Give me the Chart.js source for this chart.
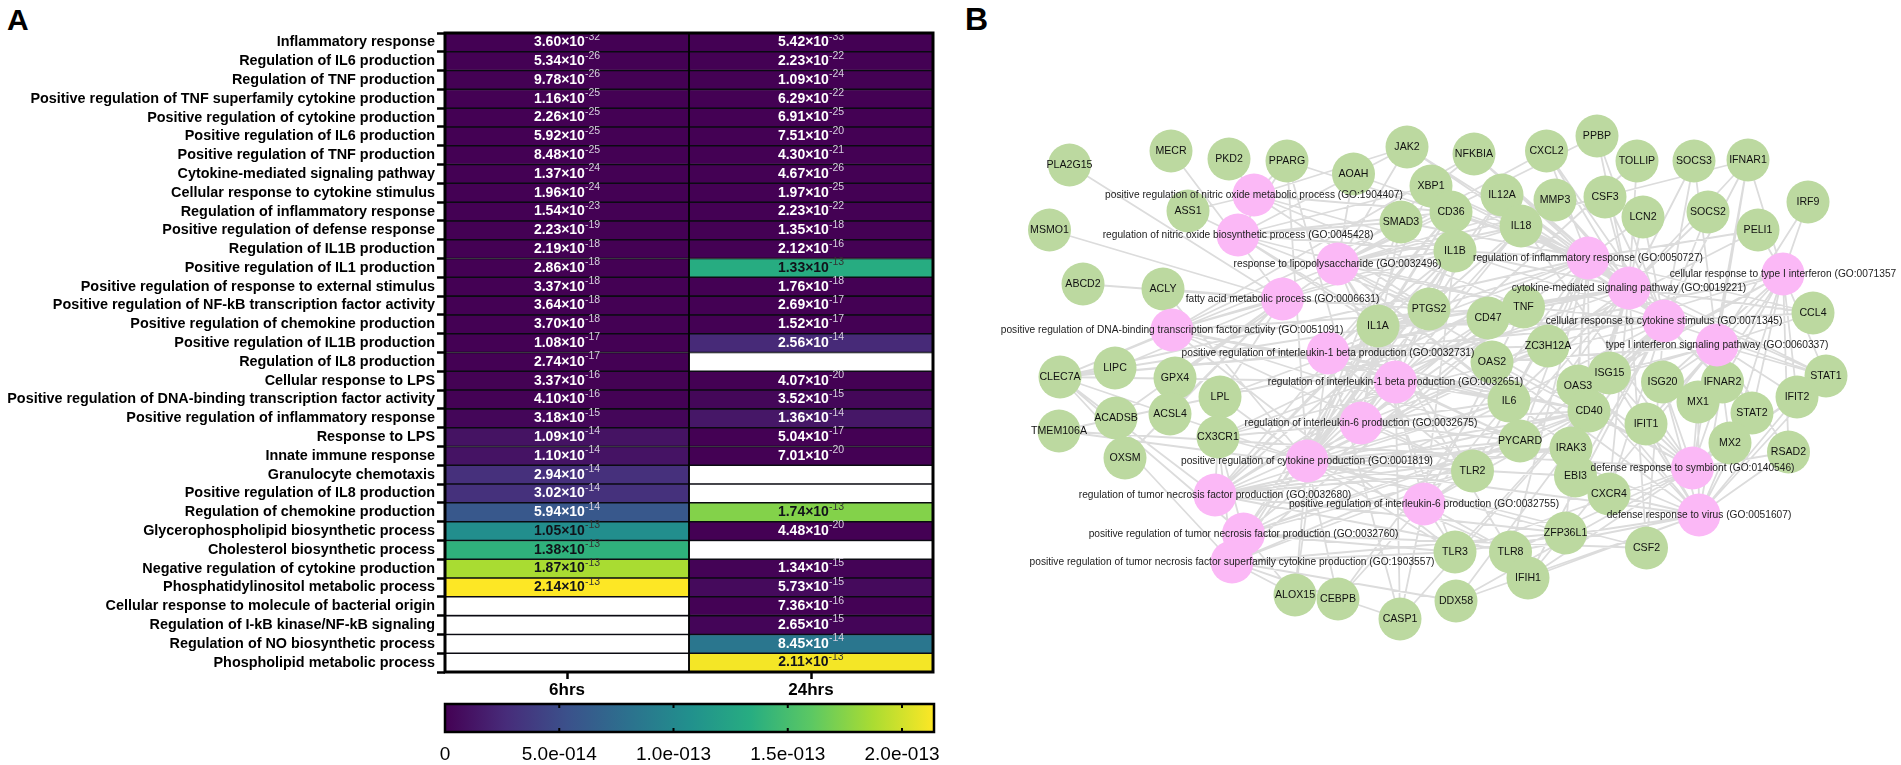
<!DOCTYPE html>
<html>
<head>
<meta charset="utf-8">
<title>GO enrichment heatmap and network</title>
<script src="https://cdn.jsdelivr.net/npm/chart.js@4"></script>
<style>
    html, body { margin: 0; padding: 0; background: #fff; overflow: hidden; }
    canvas { position: absolute; display: block; }
    .panel { position: absolute; font-family: "Liberation Sans", Arial, sans-serif; font-weight: bold; line-height: 1; color: #000; }
</style>
</head>
<body>
<div class="panel" style="left:7px;top:5px;font-size:30px">A</div>
<div class="panel" style="left:965px;top:3px;font-size:32px">B</div>
<canvas id="heat" width="945" height="700" style="left:0;top:0"></canvas>
<canvas id="bar" width="960" height="75" style="left:0;top:690px"></canvas>
<canvas id="net" width="951" height="765" style="left:950px;top:0"></canvas>
<script>
// panel A
var categories = ['Inflammatory response', 'Regulation of IL6 production', 'Regulation of TNF production',
    'Positive regulation of TNF superfamily cytokine production', 'Positive regulation of cytokine production',
    'Positive regulation of IL6 production', 'Positive regulation of TNF production', 'Cytokine-mediated signaling pathway',
    'Cellular response to cytokine stimulus', 'Regulation of inflammatory response', 'Positive regulation of defense response',
    'Regulation of IL1B production', 'Positive regulation of IL1 production', 'Positive regulation of response to external stimulus',
    'Positive regulation of NF-kB transcription factor activity', 'Positive regulation of chemokine production',
    'Positive regulation of IL1B production', 'Regulation of IL8 production', 'Cellular response to LPS',
    'Positive regulation of DNA-binding transcription factor activity', 'Positive regulation of inflammatory response',
    'Response to LPS', 'Innate immune response', 'Granulocyte chemotaxis', 'Positive regulation of IL8 production',
    'Regulation of chemokine production', 'Glycerophospholipid biosynthetic process', 'Cholesterol biosynthetic process',
    'Negative regulation of cytokine production', 'Phosphatidylinositol metabolic process',
    'Cellular response to molecule of bacterial origin', 'Regulation of I-kB kinase/NF-kB signaling',
    'Regulation of NO biosynthetic process', 'Phospholipid metabolic process'];
var timepoints = ['6hrs', '24hrs'];
var values6h = [3.60e-32, 5.34e-26, 9.78e-26, 1.16e-25, 2.26e-25, 5.92e-25, 8.48e-25, 1.37e-24, 1.96e-24, 1.54e-23,
    2.23e-19, 2.19e-18, 2.86e-18, 3.37e-18, 3.64e-18, 3.70e-18, 1.08e-17, 2.74e-17, 3.37e-16, 4.10e-16,
    3.18e-15, 1.09e-14, 1.10e-14, 2.94e-14, 3.02e-14, 5.94e-14, 1.05e-13, 1.38e-13, 1.87e-13, 2.14e-13,
    null, null, null, null];
var values24h = [5.42e-33, 2.23e-22, 1.09e-24, 6.29e-22, 6.91e-25, 7.51e-20, 4.30e-21, 4.67e-26, 1.97e-25, 2.23e-22,
    1.35e-18, 2.12e-16, 1.33e-13, 1.76e-18, 2.69e-17, 1.52e-17, 2.56e-14, null, 4.07e-20, 3.52e-15,
    1.36e-14, 5.04e-17, 7.01e-20, null, null, 1.74e-13, 4.48e-20, null, 1.34e-15, 5.73e-15,
    7.36e-16, 2.65e-15, 8.45e-14, 2.11e-13];
var colorMax = 2.14e-13;
var colorTicks = [0, 5e-14, 1e-13, 1.5e-13, 2e-13];
var colorTickLabels = ['0', '5.0e-014', '1.0e-013', '1.5e-013', '2.0e-013'];

// panel B, positions in page pixels
var geneNames = ['PLA2G15', 'MECR', 'PKD2', 'PPARG', 'ASS1', 'MSMO1', 'ABCD2', 'ACLY', 'AOAH', 'JAK2', 'NFKBIA', 'CXCL2',
    'PPBP', 'TOLLIP', 'SOCS3', 'IFNAR1', 'XBP1', 'CD36', 'SMAD3', 'IL12A', 'MMP3', 'CSF3', 'LCN2', 'SOCS2', 'IL18', 'IRF9',
    'PELI1', 'IL1B', 'PTGS2', 'IL1A', 'CD47', 'TNF', 'CCL4', 'ZC3H12A', 'OAS2', 'ISG15', 'OAS3', 'ISG20', 'IFNAR2', 'MX1',
    'STAT1', 'IFIT2', 'STAT2', 'IL6', 'CD40', 'IFIT1', 'PYCARD', 'IRAK3', 'MX2', 'RSAD2', 'TLR2', 'EBI3', 'CXCR4', 'ZFP36L1',
    'CSF2', 'TLR3', 'TLR8', 'CLEC7A', 'LIPC', 'GPX4', 'LPL', 'ACADSB', 'ACSL4', 'TMEM106A', 'CX3CR1', 'OXSM', 'ALOX15',
    'CEBPB', 'IFIH1', 'DDX58', 'CASP1'];
var geneX = [1069.5, 1171, 1229, 1287, 1188, 1049.5, 1083, 1163, 1353.5, 1407, 1474, 1546.5, 1597, 1637, 1694, 1748, 1431,
    1451, 1401, 1502, 1555, 1605, 1643, 1708, 1521, 1808, 1758, 1455, 1429, 1378, 1488, 1523.5, 1813, 1548, 1492, 1609.5,
    1578, 1662.5, 1722.5, 1698, 1826, 1797, 1752, 1509, 1589, 1646, 1520, 1571, 1730, 1788.5, 1472.5, 1575.5, 1609, 1565.5,
    1646.5, 1455, 1510.5, 1060, 1115, 1175, 1220, 1116, 1170, 1059, 1218, 1125, 1295, 1338, 1528, 1456, 1400];
var geneY = [165, 151, 159, 161, 211, 230, 284, 289, 174, 147, 154, 151, 136, 161, 161, 160, 186, 212, 222, 195, 200, 197,
    217, 212, 226, 202, 230, 251, 309, 326, 318, 307, 313, 346, 362, 373, 386, 382, 382, 402, 376, 397, 413, 401, 411, 424,
    441, 448, 443, 452, 471, 476, 494, 533, 548, 552, 552, 377, 368, 378, 397, 418, 414, 431, 437, 458, 595, 599, 578, 601, 619];
var geneLinks = [['FA'], ['FA'], ['NOm'], ['NOm', 'NOb', 'INF', 'CYT', 'IL6r'], ['NOm', 'NOb'], ['FA'], ['FA'], ['FA', 'CYT'],
    ['LPS', 'INF'], ['SIG', 'CYS', 'LPS', 'NOb', 'NOm'], ['LPS', 'INF', 'SIG', 'CYS', 'DNA'], ['LPS', 'INF', 'SIG', 'CYS'],
    ['SIG', 'LPS', 'CYS'], ['SIG', 'CYT'], ['SIG', 'CYS', 'T1s'], ['T1c', 'T1s', 'SYM', 'SIG', 'CYS', 'LPS'],
    ['INF', 'SIG', 'NOb', 'CYT'], ['LPS', 'INF', 'NOm', 'NOb', 'TNFr', 'TNFp', 'TNFs', 'IL1p'],
    ['DNA', 'NOb', 'INF', 'CYT', 'IL6r'], ['CYT', 'IL6r', 'INF', 'SIG', 'CYS', 'SYM'], ['SIG', 'CYS', 'LPS'], ['SIG', 'CYS', 'LPS'],
    ['SIG', 'CYS', 'INF'], ['SIG', 'CYS'], ['INF', 'CYT', 'SIG', 'CYS', 'LPS', 'IL6r', 'DNA', 'TNFr'], ['T1c', 'T1s'],
    ['T1c', 'INF', 'CYT'], ['LPS', 'INF', 'SIG', 'CYS', 'CYT', 'IL1p', 'IL1r', 'IL6r', 'IL6p', 'TNFr', 'TNFp', 'TNFs', 'DNA', 'NOm', 'NOb'],
    ['LPS', 'INF', 'CYT', 'IL1p', 'NOb', 'NOm', 'FA'], ['LPS', 'INF', 'SIG', 'CYS', 'CYT', 'IL6r', 'IL6p', 'TNFr', 'NOb'],
    ['TNFr', 'IL6r', 'IL1p', 'SIG'], ['LPS', 'INF', 'SIG', 'CYS', 'CYT', 'IL1p', 'IL1r', 'IL6r', 'IL6p', 'TNFr', 'TNFp', 'TNFs', 'DNA', 'NOm', 'NOb', 'VIR'],
    ['INF', 'CYS', 'T1s', 'SIG'], ['CYT', 'TNFr', 'IL6r', 'SIG', 'IL1p', 'INF'], ['T1c', 'T1s', 'SYM', 'VIR'],
    ['T1c', 'T1s', 'SYM', 'VIR', 'CYS'], ['T1c', 'T1s', 'SYM', 'VIR'], ['T1c', 'T1s', 'SYM', 'VIR'],
    ['T1c', 'T1s', 'SIG', 'SYM', 'VIR', 'CYS'], ['T1c', 'T1s', 'SYM', 'VIR'], ['T1c', 'T1s', 'SIG', 'CYS', 'SYM', 'VIR', 'INF'],
    ['T1c', 'T1s', 'SYM', 'VIR'], ['T1c', 'T1s', 'SYM', 'VIR', 'CYS'],
    ['LPS', 'INF', 'SIG', 'CYS', 'CYT', 'IL1p', 'IL1r', 'IL6r', 'IL6p', 'TNFr', 'TNFp', 'DNA', 'NOb'],
    ['LPS', 'INF', 'SIG', 'CYS', 'CYT', 'IL1p', 'IL6r', 'IL6p', 'TNFr', 'TNFp', 'TNFs', 'DNA', 'SYM'], ['T1c', 'T1s', 'SYM', 'VIR'],
    ['CYT', 'IL1p', 'IL1r', 'IL6r', 'IL6p', 'TNFr', 'TNFp', 'TNFs', 'SIG', 'CYS', 'INF', 'DNA', 'VIR'], ['INF', 'LPS', 'TNFr', 'CYT', 'SIG'],
    ['T1c', 'T1s', 'SYM', 'VIR'], ['T1c', 'T1s', 'SYM', 'VIR'],
    ['LPS', 'CYT', 'IL6r', 'TNFr', 'TNFp', 'TNFs', 'IL6p', 'DNA', 'INF', 'SIG', 'IL1p'], ['SIG', 'CYS', 'CYT'], ['SIG', 'CYS', 'VIR'],
    ['TNFr', 'INF', 'CYT', 'TNFs'], ['CYS', 'SIG', 'CYT', 'TNFp'], ['LPS', 'CYT', 'IL6p', 'TNFp', 'TNFs', 'VIR', 'SYM', 'DNA', 'CYS'],
    ['LPS', 'CYT', 'IL6p', 'TNFr', 'VIR', 'SYM', 'INF'],
    ['CYT', 'TNFr', 'TNFp', 'TNFs', 'IL1p', 'IL1r', 'DNA', 'INF', 'SIG', 'CYS', 'LPS'], ['FA'], ['FA', 'LPS'], ['FA', 'INF', 'CYT'],
    ['FA'], ['FA'], ['SYM', 'VIR', 'T1c'], ['INF', 'CYT', 'TNFr', 'TNFp', 'TNFs', 'IL6r', 'SIG', 'CYS'], ['FA'],
    ['TNFs', 'TNFp', 'CYT', 'IL1p'], ['TNFs', 'INF', 'CYT', 'IL6p'], ['SYM', 'VIR', 'CYS', 'T1s'], ['VIR', 'SYM', 'CYS', 'TNFs'],
    ['IL1p', 'IL1r', 'TNFs', 'IL6p', 'CYS']];

var termCodes = ['NOm', 'NOb', 'LPS', 'FA', 'DNA', 'IL1p', 'IL1r', 'IL6r', 'CYT', 'TNFr', 'IL6p', 'TNFp', 'TNFs',
    'INF', 'SIG', 'T1c', 'CYS', 'T1s', 'SYM', 'VIR'];
var termNames = ['positive regulation of nitric oxide metabolic process (GO:1904407)',
    'regulation of nitric oxide biosynthetic process (GO:0045428)',
    'response to lipopolysaccharide (GO:0032496)',
    'fatty acid metabolic process (GO:0006631)',
    'positive regulation of DNA-binding transcription factor activity (GO:0051091)',
    'positive regulation of interleukin-1 beta production (GO:0032731)',
    'regulation of interleukin-1 beta production (GO:0032651)',
    'regulation of interleukin-6 production (GO:0032675)',
    'positive regulation of cytokine production (GO:0001819)',
    'regulation of tumor necrosis factor production (GO:0032680)',
    'positive regulation of interleukin-6 production (GO:0032755)',
    'positive regulation of tumor necrosis factor production (GO:0032760)',
    'positive regulation of tumor necrosis factor superfamily cytokine production (GO:1903557)',
    'regulation of inflammatory response (GO:0050727)',
    'cytokine-mediated signaling pathway (GO:0019221)',
    'cellular response to type I interferon (GO:0071357',
    'cellular response to cytokine stimulus (GO:0071345)',
    'type I interferon signaling pathway (GO:0060337)',
    'defense response to symbiont (GO:0140546)',
    'defense response to virus (GO:0051607)'];
var termX = [1254, 1238, 1337.5, 1282.5, 1172, 1328, 1395.5, 1361, 1307, 1215, 1424, 1243.5, 1232, 1588, 1629, 1783, 1664, 1717, 1692.5, 1699];
var termY = [195, 235, 264, 299, 330, 353, 382, 423, 461, 495, 504, 534, 562, 258, 288, 274, 321, 345, 468, 515];

var fontName = '"Liberation Sans", Arial, sans-serif';
var viridis = [[68, 1, 84], [71, 44, 122], [59, 81, 139], [44, 113, 142], [33, 144, 141], [39, 173, 129], [92, 200, 99], [170, 220, 50], [253, 231, 37]];

function viridisColor(t)
{
    var p = Math.min(Math.max(t, 0), 1) * (viridis.length - 1);
    var i = Math.min(Math.floor(p), viridis.length - 2);
    var f = p - i;
    var c = viridis[i].map(function (v, k) { return Math.round(v + (viridis[i + 1][k] - v) * f); });
    return 'rgb(' + c[0] + ',' + c[1] + ',' + c[2] + ')';
}

function cellColor(v)
{
    return v === null ? '#ffffff' : viridisColor(v / colorMax);
}

// cell captions and the heavy frame
var heatPlugin = {
    id: 'heatCaptions',
    afterDatasetsDraw: function (chart) {
        var ctx = chart.ctx, x = chart.scales.x, y = chart.scales.y, a = chart.chartArea;
        [values6h, values24h].forEach(function (series, col) {
            series.forEach(function (v, row) {
                if (v === null) return;
                var parts = v.toExponential(2).split('e');
                var base = parts[0] + '×10';
                var exp = '-' + Math.abs(parseInt(parts[1], 10));
                var cy = y.getPixelForValue(row);
                var dark = v > 1e-13;
                ctx.save();
                ctx.textBaseline = 'middle';
                ctx.textAlign = 'left';
                ctx.font = 'bold 14px ' + fontName;
                var w = ctx.measureText(base).width;
                ctx.font = '10.5px ' + fontName;
                var we = ctx.measureText(exp).width;
                var sx = x.getPixelForValue(col + 0.5) - (w + we) / 2;
                ctx.fillStyle = dark ? '#11131a' : '#ffffff';
                ctx.font = 'bold 14px ' + fontName;
                ctx.fillText(base, sx, cy);
                ctx.fillStyle = dark ? '#333' : '#d8d0e0';
                ctx.font = '10.5px ' + fontName;
                ctx.fillText(exp, sx + w, cy - 5.5);
                ctx.restore();
            });
        });
        ctx.save();
        ctx.strokeStyle = '#000';
        ctx.lineWidth = 3;
        ctx.strokeRect(a.left, a.top, a.right - a.left, a.bottom - a.top);
        ctx.lineWidth = 1.5;
        ctx.beginPath();
        ctx.moveTo(x.getPixelForValue(1), a.top);
        ctx.lineTo(x.getPixelForValue(1), a.bottom);
        ctx.stroke();
        ctx.restore();
    }
};

var heatChart = new Chart(document.getElementById('heat').getContext('2d'), {
    type: 'bar',
    plugins: [heatPlugin],
    data: {
        labels: categories,
        datasets: [values6h, values24h].map(function (series, col) {
            return {
                data: series.map(function () { return [col, col + 1]; }),
                backgroundColor: series.map(cellColor),
                borderColor: '#0b0b12',
                borderWidth: 1.1,
                borderSkipped: false,
                grouped: false,
                barPercentage: 1,
                categoryPercentage: 1
            };
        })
    },
    options: {
        indexAxis: 'y',
        responsive: false,
        animation: false,
        layout: { padding: { top: 33, right: 12 }, autoPadding: false },
        plugins: { legend: { display: false }, tooltip: { enabled: false } },
        scales: {
            x: {
                type: 'linear', min: 0, max: 2,
                afterBuildTicks: function (scale) { scale.ticks = [{ value: 0.5 }, { value: 1.5 }]; },
                afterFit: function (scale) { scale.height = 28; },
                grid: { drawOnChartArea: false, drawTicks: true, tickLength: 7, tickWidth: 2.5, tickColor: '#000' },
                border: { display: false },
                ticks: {
                    maxRotation: 0, padding: 1, color: '#000',
                    font: { family: fontName, size: 17, weight: 'bold' },
                    callback: function (v) { return timepoints[v < 1 ? 0 : 1]; }
                }
            },
            y: {
                afterFit: function (scale) { scale.width = 445; },
                grid: { drawOnChartArea: false, drawTicks: true, tickLength: 8, tickWidth: 2.5, tickColor: '#000' },
                border: { display: false },
                ticks: {
                    autoSkip: false, padding: 2, color: '#000',
                    font: { family: fontName, size: 14.4, weight: 'bold' }
                }
            }
        }
    }
});

// colour bar
var barPlugin = {
    id: 'barFrame',
    afterDatasetsDraw: function (chart) {
        var ctx = chart.ctx, x = chart.scales.x, a = chart.chartArea;
        ctx.save();
        ctx.strokeStyle = '#000';
        ctx.lineWidth = 2.5;
        ctx.strokeRect(a.left, a.top, a.right - a.left, a.bottom - a.top);
        ctx.lineWidth = 2;
        colorTicks.slice(1).forEach(function (t) {
            var px = x.getPixelForValue(t);
            ctx.beginPath();
            ctx.moveTo(px, a.top);
            ctx.lineTo(px, a.top + 4);
            ctx.moveTo(px, a.bottom - 4);
            ctx.lineTo(px, a.bottom);
            ctx.stroke();
        });
        ctx.restore();
    }
};

var barChart = new Chart(document.getElementById('bar').getContext('2d'), {
    type: 'bar',
    plugins: [barPlugin],
    data: {
        labels: [''],
        datasets: [{
            data: [[0, colorMax]],
            barPercentage: 1,
            categoryPercentage: 1,
            borderWidth: 0,
            backgroundColor: function (context) {
                var a = context.chart.chartArea;
                if (!a) return viridisColor(0);
                var g = context.chart.ctx.createLinearGradient(a.left, 0, a.right, 0);
                viridis.forEach(function (c, i) { g.addColorStop(i / (viridis.length - 1), viridisColor(i / (viridis.length - 1))); });
                return g;
            }
        }]
    },
    options: {
        indexAxis: 'y',
        responsive: false,
        animation: false,
        layout: { padding: { top: 14, left: 445, right: 26 }, autoPadding: false },
        plugins: { legend: { display: false }, tooltip: { enabled: false } },
        scales: {
            x: {
                type: 'linear', min: 0, max: colorMax,
                afterBuildTicks: function (scale) { scale.ticks = colorTicks.map(function (t) { return { value: t }; }); },
                afterFit: function (scale) { scale.height = 33; },
                grid: { display: false },
                border: { display: false },
                ticks: {
                    maxRotation: 0, padding: 3, color: '#000',
                    font: { family: fontName, size: 19 },
                    callback: function (v) { return colorTickLabels[colorTicks.indexOf(v)]; }
                }
            },
            y: { display: false }
        }
    }
});

// network
function buildEdges()
{
    var pts = [];
    geneNames.forEach(function (g, i) {
        geneLinks[i].forEach(function (code) {
            var t = termCodes.indexOf(code);
            pts.push({ x: geneX[i], y: geneY[i] });
            pts.push({ x: termX[t], y: termY[t] });
            pts.push({ x: null, y: null });
        });
    });
    return pts;
}

function nodePoints(xs, ys)
{
    return xs.map(function (x, i) { return { x: x, y: ys[i] }; });
}

var netLabels = {
    id: 'netLabels',
    afterDatasetsDraw: function (chart) {
        var ctx = chart.ctx, x = chart.scales.x, y = chart.scales.y;
        ctx.save();
        ctx.textAlign = 'center';
        ctx.textBaseline = 'middle';
        ctx.fillStyle = '#111';
        ctx.font = '10.6px ' + fontName;
        geneNames.forEach(function (n, i) { ctx.fillText(n, x.getPixelForValue(geneX[i]), y.getPixelForValue(geneY[i])); });
        ctx.fillStyle = '#222';
        ctx.font = '10.2px ' + fontName;
        termNames.forEach(function (n, i) { ctx.fillText(n, x.getPixelForValue(termX[i]), y.getPixelForValue(termY[i])); });
        ctx.restore();
    }
};

var netChart = new Chart(document.getElementById('net').getContext('2d'), {
    type: 'scatter',
    plugins: [netLabels],
    data: {
        datasets: [{
            data: buildEdges(),
            showLine: true,
            spanGaps: false,
            borderColor: '#dcdcdc',
            borderWidth: 1.8,
            pointRadius: 0,
            order: 3
        }, {
            data: nodePoints(geneX, geneY),
            pointRadius: 21.5,
            backgroundColor: '#bcd9a0',
            borderWidth: 0,
            order: 2
        }, {
            data: nodePoints(termX, termY),
            pointRadius: 21.5,
            backgroundColor: '#fbb8f6',
            borderWidth: 0,
            order: 1
        }]
    },
    options: {
        responsive: false,
        animation: false,
        layout: { padding: 0, autoPadding: false },
        plugins: { legend: { display: false }, tooltip: { enabled: false } },
        scales: {
            x: { type: 'linear', min: 950, max: 1901, display: false },
            y: { type: 'linear', min: 0, max: 765, reverse: true, display: false }
        }
    }
});
</script>
</body>
</html>
